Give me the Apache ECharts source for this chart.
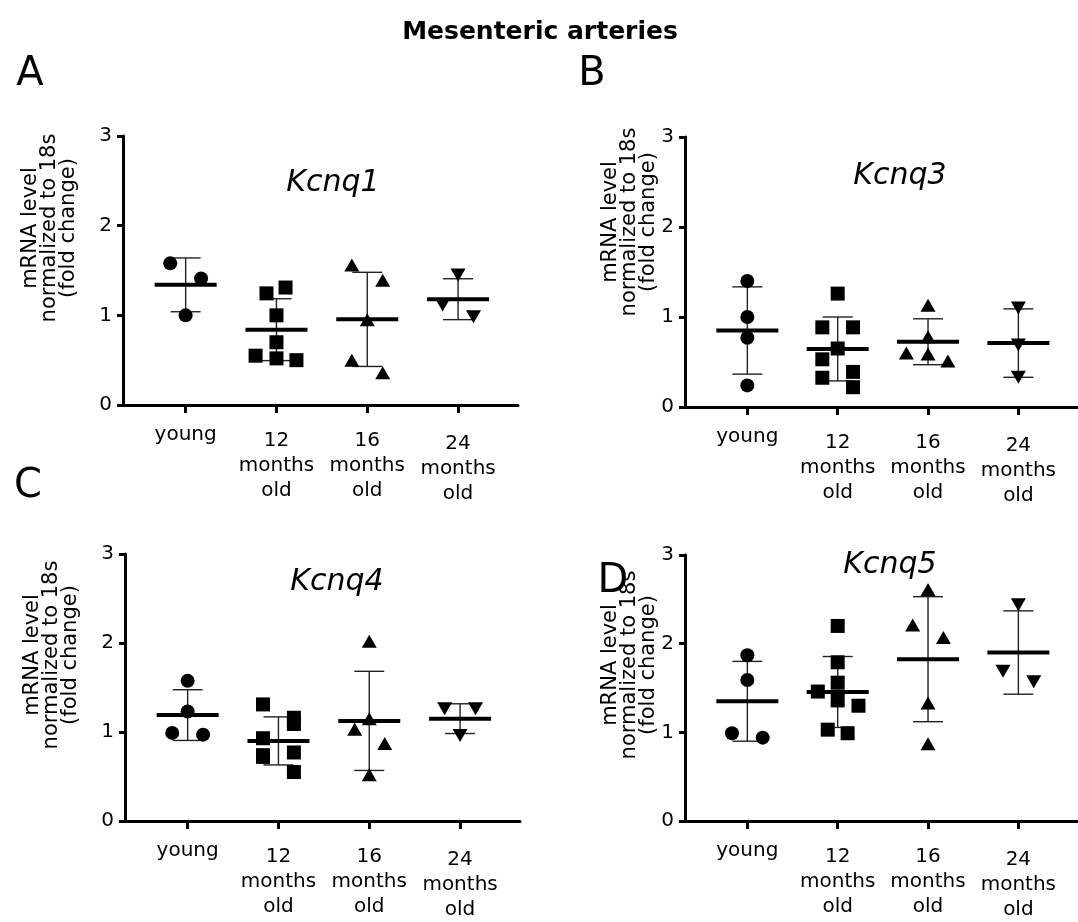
<!DOCTYPE html>
<html><head><meta charset="utf-8">
<script src="https://cdn.jsdelivr.net/npm/echarts@6/dist/echarts.min.js"></script>
<style>html,body{margin:0;padding:0;background:#fff}#c{width:1078px;height:922px}</style>
</head><body><div id="c"></div>
<script>
// ---------- data ----------
const groupLabels = ['young', '12\nmonths\nold', '16\nmonths\nold', '24\nmonths\nold'];
const yTickValues = [0, 1, 2, 3];
const mainTitle = 'Mesenteric arteries';
const panelLetters = ['A', 'B', 'C', 'D'];
const genes = ['Kcnq1', 'Kcnq3', 'Kcnq4', 'Kcnq5'];
const yName = 'mRNA level\nnormalized to 18s\n(fold change)';

// Panel A - Kcnq1
const kcnq1Young = [1.58, 1.41, 1.00];
const kcnq1M12 = [1.31, 1.245, 1.00, 0.70, 0.55, 0.52, 0.50];
const kcnq1M16 = [1.56, 1.39, 0.95, 0.50, 0.36];
const kcnq1M24 = [1.45, 1.115, 0.985];
const kcnq1Mean = [1.34, 0.84, 0.955, 1.18];
const kcnq1SD = [0.30, 0.345, 0.525, 0.228];
const kcnq1Jitter = [[-0.17, 0.17, 0], [0.10, -0.11, 0, 0, -0.23, 0, 0.22], [-0.17, 0.17, 0, -0.17, 0.17], [0, -0.17, 0.17]];

// Panel B - Kcnq3
const kcnq3Young = [1.40, 1.00, 0.77, 0.24];
const kcnq3M12 = [1.26, 0.885, 0.885, 0.65, 0.53, 0.39, 0.325, 0.22];
const kcnq3M16 = [1.13, 0.78, 0.60, 0.59, 0.51];
const kcnq3M24 = [1.10, 0.69, 0.33];
const kcnq3Mean = [0.85, 0.645, 0.725, 0.71];
const kcnq3SD = [0.485, 0.355, 0.255, 0.38];
const kcnq3Jitter = [[0, 0, 0, 0], [0, -0.17, 0.17, 0, -0.17, 0.17, -0.17, 0.17], [0, 0, -0.24, 0, 0.22], [0, 0, 0]];

// Panel C - Kcnq4
const kcnq4Young = [1.575, 1.23, 0.99, 0.97];
const kcnq4M12 = [1.31, 1.16, 1.09, 0.93, 0.77, 0.74, 0.72, 0.55];
const kcnq4M16 = [2.02, 1.15, 1.03, 0.87, 0.52];
const kcnq4M24 = [1.26, 1.26, 0.96];
const kcnq4Mean = [1.19, 0.90, 1.125, 1.15];
const kcnq4SD = [0.285, 0.27, 0.557, 0.167];
const kcnq4Jitter = [[0, 0, -0.17, 0.17], [-0.17, 0.17, 0.17, -0.17, 0.17, -0.17, -0.17, 0.17], [0, 0, -0.16, 0.17, 0], [-0.17, 0.17, 0]];

// Panel D - Kcnq5
const kcnq5Young = [1.87, 1.59, 0.99, 0.94];
const kcnq5M12 = [2.20, 1.79, 1.56, 1.46, 1.36, 1.30, 1.03, 0.99];
const kcnq5M16 = [2.61, 2.21, 2.07, 1.33, 0.87];
const kcnq5M24 = [2.44, 1.69, 1.57];
const kcnq5Mean = [1.35, 1.455, 1.825, 1.90];
const kcnq5SD = [0.45, 0.40, 0.705, 0.47];
const kcnq5Jitter = [[0, 0, -0.17, 0.17], [0, 0, 0, -0.22, 0, 0.23, -0.11, 0.11], [0, -0.17, 0.17, 0, 0], [0, -0.17, 0.17]];

const panels = [
  {groups: [kcnq1Young, kcnq1M12, kcnq1M16, kcnq1M24], mean: kcnq1Mean, sd: kcnq1SD, jitter: kcnq1Jitter},
  {groups: [kcnq3Young, kcnq3M12, kcnq3M16, kcnq3M24], mean: kcnq3Mean, sd: kcnq3SD, jitter: kcnq3Jitter},
  {groups: [kcnq4Young, kcnq4M12, kcnq4M16, kcnq4M24], mean: kcnq4Mean, sd: kcnq4SD, jitter: kcnq4Jitter},
  {groups: [kcnq5Young, kcnq5M12, kcnq5M16, kcnq5M24], mean: kcnq5Mean, sd: kcnq5SD, jitter: kcnq5Jitter}
];

// ---------- layout & style ----------
const FONT = 'DejaVu Sans';
const grids = [
  {left: 123, top: 136, width: 395, height: 269},
  {left: 685, top: 137, width: 393, height: 270},
  {left: 125, top: 554, width: 395, height: 269},
  {left: 685, top: 555, width: 393, height: 270}
];
const letterPos = [[30, 75], [592, 75], [28, 487], [613, 582]];
const genePos = [[333, 183], [900, 176], [337, 582], [890, 565]];
const yNamePos = [[50, 228], [630, 222], [52, 655], [630, 665]];
const symbols = [
  {symbol: 'circle', size: 14, rotate: 0},
  {symbol: 'rect', size: 14, rotate: 0},
  {symbol: 'triangle', size: [15, 13], rotate: 0},
  {symbol: 'triangle', size: [15, 13], rotate: 180}
];
const labelSpacer = ['', '{s| }\n', '{s| }\n', '{t| }\n'];

const xAxes = [], yAxes = [], series = [];
panels.forEach((p, pi) => {
  xAxes.push({
    gridIndex: pi, type: 'value', min: 0.31, max: 4.66,
    splitLine: {show: false},
    axisLine: {show: true, onZero: false, lineStyle: {color: '#000', width: 3}},
    axisTick: {show: true, customValues: [1, 2, 3, 4], length: 8, lineStyle: {color: '#000', width: 3}},
    axisLabel: {
      customValues: [1, 2, 3, 4], margin: 17, color: '#000', fontFamily: FONT, fontSize: 20, lineHeight: 25,
      formatter: v => labelSpacer[Math.round(v) - 1] + groupLabels[Math.round(v) - 1],
      rich: {s: {lineHeight: 6, fontSize: 4}, t: {lineHeight: 9, fontSize: 4}}
    }
  });
  yAxes.push({
    gridIndex: pi, type: 'value', min: yTickValues[0], max: yTickValues[yTickValues.length - 1], interval: 1,
    splitLine: {show: false},
    axisLine: {show: true, lineStyle: {color: '#000', width: 3}},
    axisTick: {show: true, length: 6, lineStyle: {color: '#000', width: 3}},
    axisLabel: {color: '#000', fontFamily: FONT, fontSize: 20, margin: 11}
  });
  p.groups.forEach((vals, gi) => {
    series.push({
      type: 'scatter', xAxisIndex: pi, yAxisIndex: pi, z: 3,
      symbol: symbols[gi].symbol, symbolSize: symbols[gi].size, symbolRotate: symbols[gi].rotate,
      itemStyle: {color: '#000', opacity: 1},
      data: vals.map((v, i) => [gi + 1 + p.jitter[gi][i], v])
    });
  });
  series.push({
    type: 'custom', xAxisIndex: pi, yAxisIndex: pi, z: 2,
    data: p.mean.map((m, i) => [i + 1, m, p.sd[i]]),
    renderItem: function (params, api) {
      const x = api.value(0), m = api.value(1), s = api.value(2);
      const c = api.coord([x, m]), t = api.coord([x, m + s]), b = api.coord([x, m - s]);
      const thin = {stroke: '#222', lineWidth: 1.4};
      return {type: 'group', children: [
        {type: 'line', shape: {x1: c[0], y1: t[1], x2: c[0], y2: b[1]}, style: thin},
        {type: 'line', shape: {x1: c[0] - 15, y1: t[1], x2: c[0] + 15, y2: t[1]}, style: thin},
        {type: 'line', shape: {x1: c[0] - 15, y1: b[1], x2: c[0] + 15, y2: b[1]}, style: thin},
        {type: 'line', shape: {x1: c[0] - 31, y1: c[1], x2: c[0] + 31, y2: c[1]}, style: {stroke: '#000', lineWidth: 4}}
      ]};
    }
  });
});

const graphics = [{
  type: 'text', x: 540, y: 32,
  style: {text: mainTitle, fontFamily: FONT, fontWeight: 'bold', fontSize: 25, fill: '#000', align: 'center', verticalAlign: 'middle'}
}];
panelLetters.forEach((L, i) => graphics.push({
  type: 'text', x: letterPos[i][0], y: letterPos[i][1],
  style: {text: L, fontFamily: FONT, fontSize: 40, fill: '#000', align: 'center', verticalAlign: 'middle'}
}));
genes.forEach((g, i) => graphics.push({
  type: 'text', x: genePos[i][0], y: genePos[i][1],
  style: {text: g, fontFamily: FONT, fontStyle: 'italic', fontSize: 30, fill: '#000', align: 'center', verticalAlign: 'middle'}
}));
yNamePos.forEach((pos, i) => graphics.push({
  type: 'text', x: pos[0], y: pos[1], rotation: Math.PI / 2,
  style: {text: yName, fontFamily: FONT, fontSize: 21, lineHeight: 19, fill: '#000', align: 'center', verticalAlign: 'middle'}
}));

const chart = echarts.init(document.getElementById('c'), null, {renderer: 'canvas'});
chart.setOption({
  animation: false,
  backgroundColor: '#fff',
  grid: grids.map(g => Object.assign({containLabel: false}, g)),
  xAxis: xAxes,
  yAxis: yAxes,
  series: series,
  graphic: graphics
});
</script></body></html>
